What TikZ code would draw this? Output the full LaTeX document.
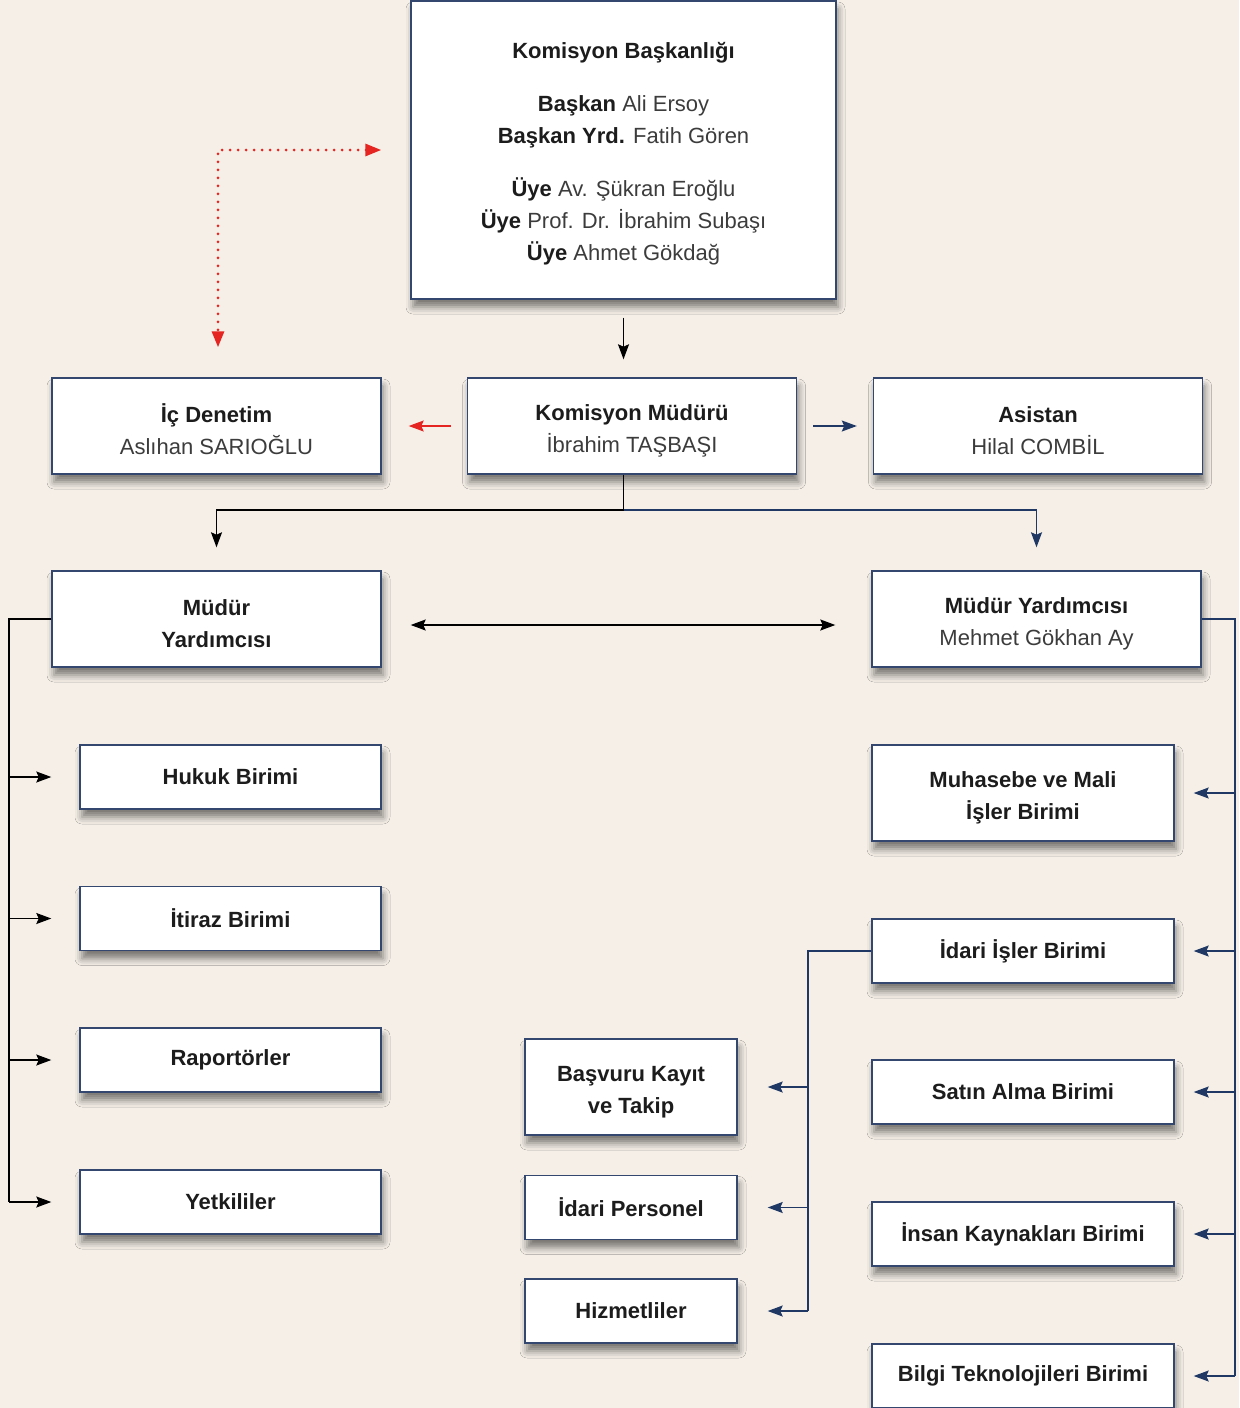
\documentclass[tikz,border=0pt]{standalone}
\usepackage{fontspec}
\setmainfont{Liberation Sans}
\usetikzlibrary{arrows.meta,shadows.blur}

\definecolor{bg}{HTML}{F5EFE8}
\definecolor{boxline}{HTML}{34476E}
\definecolor{navyline}{HTML}{1F3864}
\definecolor{redline}{HTML}{E52521}
\definecolor{txt}{HTML}{1C1C1C}
\definecolor{txtlight}{HTML}{3C3C3C}

\newcommand{\kisi}[1]{{\color{txtlight}#1}}
\newcommand{\ustpay}{\rule{0pt}{13pt}}

\tikzset{
  box/.style={draw=boxline, line width=0.7pt, fill=white, align=center,
    text=txt, font=\fontsize{11}{16}\selectfont\bfseries, inner sep=0pt,
    blur shadow={shadow xshift=1pt, shadow yshift=-4pt,
      shadow blur radius=3.5pt, shadow opacity=50}},
  mainbox/.style={box, minimum width=164.5pt, minimum height=48pt},
  unitbox/.style={box, minimum width=151pt, minimum height=32pt},
  midbox/.style={box, minimum width=106pt, minimum height=32pt},
  conn/.style={line width=0.7pt, draw=black},
  navyconn/.style={line width=0.7pt, draw=navyline},
  redconn/.style={line width=0.7pt, draw=redline},
  >={Stealth[length=7.5pt,width=5.5pt,inset=1.2pt]}
}

\begin{document}
\begin{tikzpicture}
    [x=0.5pt, y=-0.5pt]

    \fill [bg] (0,0) rectangle (1239,1408);
    \useasboundingbox (0,0) rectangle (1239,1408);

    \node [box, minimum width=212.5pt, minimum height=149pt] at (623.5, 150) (top)
      {\rule{0pt}{12pt}Komisyon Başkanlığı\\[10.5pt]
       Başkan \kisi{\mdseries Ali Ersoy}\\
       Başkan Yrd. \kisi{\mdseries Fatih Gören}\\[10.5pt]
       Üye \kisi{\mdseries Av. Şükran Eroğlu}\\
       Üye \kisi{\mdseries Prof. Dr. İbrahim Subaşı}\\
       Üye \kisi{\mdseries Ahmet Gökdağ}};

    \node [mainbox] at (216.5, 426) (ic) {\ustpay İç Denetim\\\kisi{\mdseries Aslıhan SARIOĞLU}};
    \node [mainbox] at (632, 426) (km) {\ustpay Komisyon Müdürü\\\kisi{\mdseries İbrahim TAŞBAŞI}};
    \node [mainbox] at (1038, 426) (asist) {\ustpay Asistan\\\kisi{\mdseries Hilal COMBİL}};

    \node [mainbox] at (216.5, 619) (myl) {\ustpay Müdür\\Yardımcısı};
    \node [mainbox] at (1036.5, 619) (myr) {\ustpay Müdür Yardımcısı\\\kisi{\mdseries Mehmet Gökhan Ay}};

    \node [unitbox, minimum width=150.5pt] at (230.5, 777) (hukuk) {Hukuk Birimi};
    \node [unitbox, minimum width=150.5pt] at (230.5, 918.5) (itiraz) {İtiraz Birimi};
    \node [unitbox, minimum width=150.5pt] at (230.5, 1060) (rapor) {Raportörler};
    \node [unitbox, minimum width=150.5pt] at (230.5, 1202) (yetki) {Yetkililer};

    \node [unitbox, minimum height=48pt] at (1023, 793) (muhasebe) {\ustpay Muhasebe ve Mali\\İşler Birimi};
    \node [unitbox] at (1023, 951) (idari) {İdari İşler Birimi};
    \node [unitbox] at (1023, 1092) (satin) {Satın Alma Birimi};
    \node [unitbox] at (1023, 1234) (insan) {İnsan Kaynakları Birimi};
    \node [unitbox] at (1023, 1376) (bilgi) {Bilgi Teknolojileri Birimi};

    \node [midbox, minimum height=48pt] at (631, 1087) (basvuru) {\ustpay Başvuru Kayıt\\ve Takip};
    \node [midbox] at (631, 1207.5) (personel) {İdari Personel};
    \node [midbox] at (631, 1311) (hizmet) {Hizmetliler};

    \coordinate (split) at (623.5, 510);
    \coordinate (lbus) at (9, 0);
    \coordinate (rbus) at (1235, 0);
    \coordinate (mbus) at (808, 0);

    % red dotted link
    \draw [redconn, line width=1.5pt, line cap=round, dash pattern=on 0pt off 4pt,
      {Triangle[length=8pt,width=6pt]}-{Triangle[length=8pt,width=6pt]}]
      ([xshift=-14.5pt]top.west |- top.center) -| ([xshift=0.75pt,yshift=15pt]ic.north);

    \draw [conn, ->] ([yshift=-9pt]top.south) -- ([yshift=9pt]top.south |- km.north);
    \draw [redconn, ->] ([xshift=-8pt]km.west) -- ([xshift=13.5pt]ic.east);
    \draw [navyconn, ->] ([xshift=8pt]km.east) -- ([xshift=-8pt]asist.west);

    \draw [conn] (top.south |- km.south) -- (split);
    \draw [conn, ->] (split) -| ([yshift=11.5pt]myl.north);
    \draw [navyconn, ->] (split) -| ([yshift=11.5pt]myr.north);

    \draw [conn, <->] ([xshift=14.5pt,yshift=-3pt]myl.east) -- ([xshift=-18pt,yshift=-3pt]myr.west);

    % left units
    \draw [conn] (myl.west) -- (lbus |- myl.west) -- (lbus |- yetki);
    \foreach \n in {hukuk, itiraz, rapor, yetki}
      \draw [conn, ->] (lbus |- \n) -- ([xshift=-14pt]\n.west);

    % right units
    \draw [navyconn] (myr.east) -- (rbus |- myr.east) -- (rbus |- bilgi);
    \foreach \n in {muhasebe, idari, satin, insan, bilgi}
      \draw [navyconn, ->] (rbus |- \n) -- ([xshift=9.5pt]\n.east);

    % middle units
    \draw [navyconn] (idari.west) -- (mbus |- idari.west) -- (mbus |- hizmet);
    \foreach \n in {basvuru, personel, hizmet}
      \draw [navyconn, ->] (mbus |- \n) -- ([xshift=15pt]\n.east);

  \end{tikzpicture}
\end{document}
